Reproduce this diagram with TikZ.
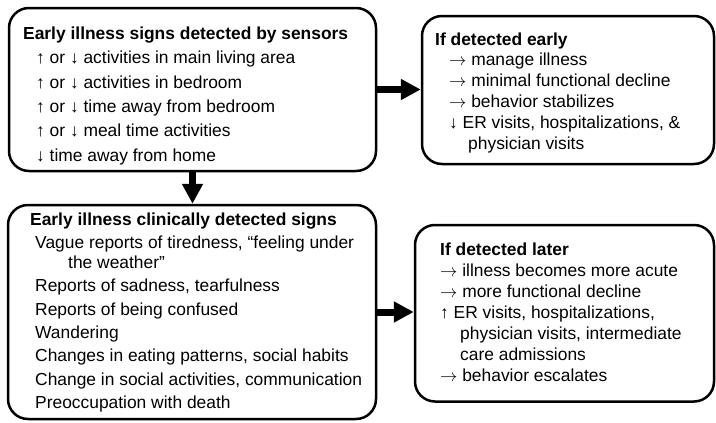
\documentclass[tikz,border=0pt]{standalone}
\usepackage{fontspec}
\setmainfont{Liberation Sans}
\usetikzlibrary{arrows.meta}

\begin{document}
\begin{tikzpicture}[x=1pt,y=1pt,
  box/.style={draw, line width=2.5pt, rounded corners=20pt, inner sep=0pt},
  txt/.style={anchor=base west, inner sep=0pt, align=left},
  flow/.style={line width=7pt, -{Triangle[length=20pt,width=20pt]}}]
\useasboundingbox (0,0) rectangle (716,-423);

\node[box, minimum width=367pt, minimum height=163pt] (sens) at (192.5,-89.5) {};
\node[box, minimum width=292pt, minimum height=148pt] (early) at (568,-90) {};
\node[box, minimum width=368pt, minimum height=214pt] (clin) at (192,-312) {};
\node[box, minimum width=299pt, minimum height=176.5pt] (later) at (564.5,-313.25) {};

% text nodes sit on the baseline of their last line
\node[txt, font=\fontsize{17.4}{24.3}\selectfont] (senstxt) at (23,-161) {%
  \textbf{Early illness signs detected by sensors}\\
  \hspace*{13pt}↑ or ↓ activities in main living area\\
  \hspace*{13pt}↑ or ↓ activities in bedroom\\
  \hspace*{13pt}↑ or ↓ time away from bedroom\\
  \hspace*{13pt}↑ or ↓ meal time activities\\
  \hspace*{13pt}↓ time away from home};

\node[txt, font=\fontsize{17.4}{20.8}\selectfont] (earlytxt) at (435,-149) {%
  \textbf{If detected early}\\
  \hspace*{14pt}$\rightarrow$ manage illness\\
  \hspace*{14pt}$\rightarrow$ minimal functional decline\\
  \hspace*{14pt}$\rightarrow$ behavior stabilizes\\
  \hspace*{14pt}↓ ER visits, hospitalizations, \&\\
  \hspace*{33pt}physician visits};

\node[txt, font=\fontsize{17.4}{23.3}\selectfont] (clintxt) at (30,-408.3) {%
  \textbf{Early illness clinically detected signs}\\
  \hspace*{5pt}Vague reports of tiredness, “feeling under\\[-3.3pt]
  \hspace*{38pt}the weather”\\
  \hspace*{5pt}Reports of sadness, tearfulness\\
  \hspace*{5pt}Reports of being confused\\
  \hspace*{5pt}Wandering\\
  \hspace*{5pt}Changes in eating patterns, social habits\\
  \hspace*{5pt}Change in social activities, communication\\
  \hspace*{5pt}Preoccupation with death};

\node[txt, font=\fontsize{17.4}{21.1}\selectfont] (latertxt) at (440,-381.6) {%
  \textbf{If detected later}\\
  $\rightarrow$ illness becomes more acute\\
  $\rightarrow$ more functional decline\\
  ↑ ER visits, hospitalizations,\\
  \hspace*{20pt}physician visits, intermediate\\
  \hspace*{20pt}care admissions\\
  $\rightarrow$ behavior escalates};

\draw[flow] (sens.east) -- (sens.east -| early.west);
\draw[flow] (sens.south) -- (sens.south |- clin.north);
\draw[flow] (clin.east) -- (clin.east -| later.west);
\end{tikzpicture}
\end{document}
